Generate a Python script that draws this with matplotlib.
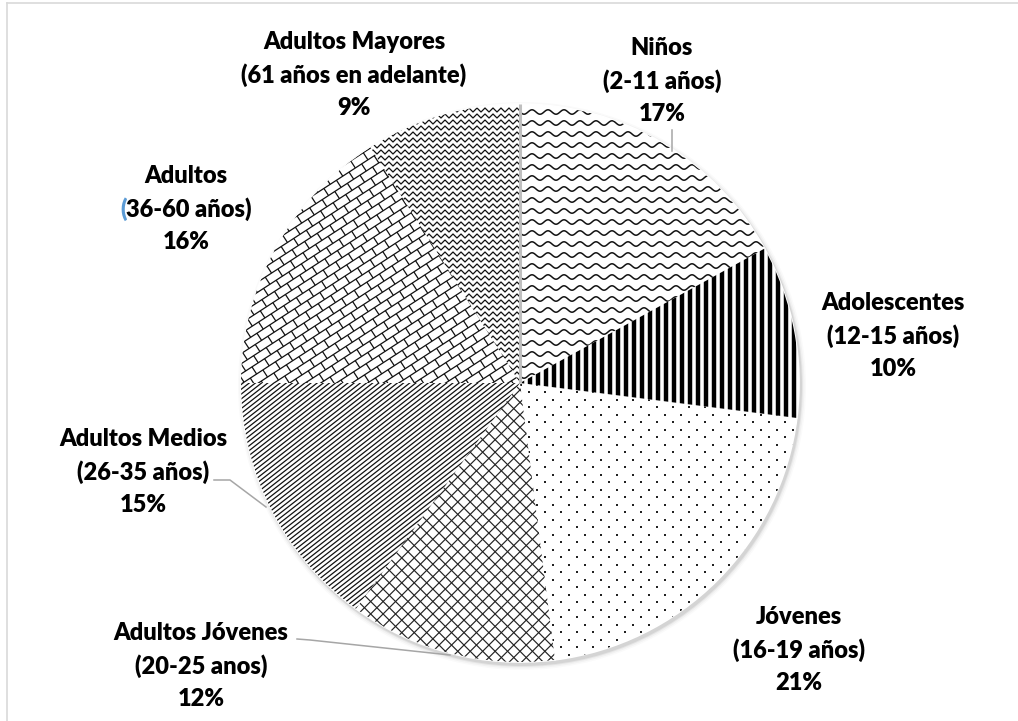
import matplotlib
matplotlib.use("Agg")
import matplotlib.pyplot as plt
import matplotlib.patches as mpatches
import numpy as np
from matplotlib.collections import LineCollection

# ===============================================================
# Data
# ===============================================================
groups = ["Niños", "Adolescentes", "Jóvenes", "Adultos Jóvenes",
          "Adultos Medios", "Adultos", "Adultos Mayores"]
age_ranges = ["(2-11 años)", "(12-15 años)", "(16-19 años)", "(20-25 anos)",
              "(26-35 años)", "(36-60 años)", "(61 años en adelante)"]
shares = [17, 10, 21, 12, 15, 16, 9]

# ===============================================================
# Layout (pixels, y measured from top)
# ===============================================================
W, H = 1018, 721
label_pos = [(662, 81), (893, 336), (799, 650), (201, 666),
             (143, 472), (186, 209), (354, 75)]
line_gap = 33
leaders = {
    "Niños": [(672, 130), (672, 151)],
    "Adultos Medios": [(214, 480), (230, 480), (266, 507)],
    "Adultos Jóvenes": [(297, 639), (310, 640), (450, 655)],
}
cx, cy, r = 520, H - 383, 279
FONT = "Lato"


def fy(y):
    return H - y


fig = plt.figure(figsize=(W / 100, H / 100), dpi=100)
ax = fig.add_axes([0, 0, 1, 1])

# soft shadow under the pie
for dr, a in [(5, 0.02), (3.5, 0.03), (2, 0.05), (1, 0.07)]:
    ax.add_patch(mpatches.Circle((cx + 2, cy - 3), r + dr, color="black",
                                 alpha=a, lw=0, zorder=0))

wedges, _ = ax.pie(shares, startangle=90, counterclock=False,
                   center=(cx, cy), radius=r, colors=["white"] * len(shares),
                   wedgeprops=dict(edgecolor="white", linewidth=1.2))
for w in wedges:
    w.set_zorder(1)

ax.set_xlim(0, W)
ax.set_ylim(0, H)
ax.set_aspect("auto")
ax.axis("off")

R = r * 1.5


def parallel(angle, spacing, phase=0.0):
    a = np.deg2rad(angle)
    u = np.array([np.cos(a), np.sin(a)])
    n = np.array([-np.sin(a), np.cos(a)])
    c = np.array([cx, cy])
    segs = []
    for t in np.arange(-R, R, spacing) + phase:
        segs.append([c + t * n - R * u, c + t * n + R * u])
    return segs


def add_lines(segs, wedge, lw, color="black"):
    lc = LineCollection(segs, colors=color, linewidths=lw, zorder=2,
                        capstyle="butt")
    ax.add_collection(lc)
    lc.set_clip_path(wedge)


# Niños: waves
xs = np.arange(cx - r, cx + r, 0.5)
waves = [np.column_stack([xs, y0 + 2.2 * np.sin(2 * np.pi * xs / 16)])
         for y0 in np.arange(cy - r, cy + r, 11)]
add_lines(waves, wedges[0], 1.1, "#111111")

# Adolescentes: thick vertical stripes
add_lines(parallel(90, 8), wedges[1], 3.2)

# Jóvenes: staggered dots
pts = []
for k, y0 in enumerate(np.arange(cy - r, cy + r, 7.5)):
    for x0 in np.arange(cx - r, cx + r, 16) + (k % 2) * 8:
        pts.append((x0, y0))
pts = np.array(pts)
sc = ax.scatter(pts[:, 0], pts[:, 1], s=2.4, color="#222222", marker="s",
                lw=0, zorder=2)
sc.set_clip_path(wedges[2])

# Adultos Jóvenes: diamond lattice
add_lines(parallel(45, 8.8) + parallel(-45, 8.8), wedges[3], 0.85, "#222222")

# Adultos Medios: dense diagonals
add_lines(parallel(38, 3.8), wedges[4], 0.9, "#111111")

# Adultos: diagonal bricks
ang, gap, blen = 33, 8.5, 15
bricks = parallel(ang, gap)
a = np.deg2rad(ang)
u = np.array([np.cos(a), np.sin(a)])
n = np.array([-np.sin(a), np.cos(a)])
c = np.array([cx, cy])
for k, t in enumerate(np.arange(-R, R, gap)):
    for s in np.arange(-R, R, blen) + (k % 2) * blen / 2:
        bricks.append([c + t * n + s * u, c + (t + gap) * n + s * u])
add_lines(bricks, wedges[5], 0.9, "#111111")

# Adultos Mayores: zigzag weave
zx = np.arange(cx - r, cx + r, 4)
zig = [np.column_stack([zx, y0 + np.where(np.arange(len(zx)) % 2 == 0, -2, 2)])
       for y0 in np.arange(cy - r, cy + r, 6)]
add_lines(zig, wedges[6], 0.9, "#111111")

# boundary line at 12 o'clock
ax.plot([cx, cx], [cy, cy + r], color="#BFBFBF", lw=2.2, zorder=3,
        solid_capstyle="butt")

# ===============================================================
# Labels
# ===============================================================
txt = dict(fontsize=17, fontweight="heavy", family=FONT, color="black",
           ha="center", va="center", zorder=5)
fig.canvas.draw()
renderer = fig.canvas.get_renderer()
for g, rng, v, (lx, ly) in zip(groups, age_ranges, shares, label_pos):
    ax.text(lx, fy(ly - line_gap), g, **txt)
    ax.text(lx, fy(ly + line_gap), f"{v}%", **txt)
    if g == "Adultos":
        tmp = ax.text(lx, fy(ly), rng, **txt)
        bb = tmp.get_window_extent(renderer)
        tmp.remove()
        ax.text(bb.x0, fy(ly), rng[0], **{**txt, "ha": "left",
                                           "color": "#5B9BD5"})
        ax.text(bb.x1, fy(ly), rng[1:], **{**txt, "ha": "right"})
    else:
        ax.text(lx, fy(ly), rng, **txt)

for pts_l in leaders.values():
    ax.plot([p[0] for p in pts_l], [fy(p[1]) for p in pts_l],
            color="#A6A6A6", lw=1.1, zorder=4)

# chart frame (top and left visible)
ax.plot([7, W], [fy(3), fy(3)], color="#D9D9D9", lw=1.2, zorder=6)
ax.plot([7, 7], [fy(3), 0], color="#D9D9D9", lw=1.2, zorder=6)

fig.savefig("out.png", dpi=100, facecolor="white")
plt.close(fig)
